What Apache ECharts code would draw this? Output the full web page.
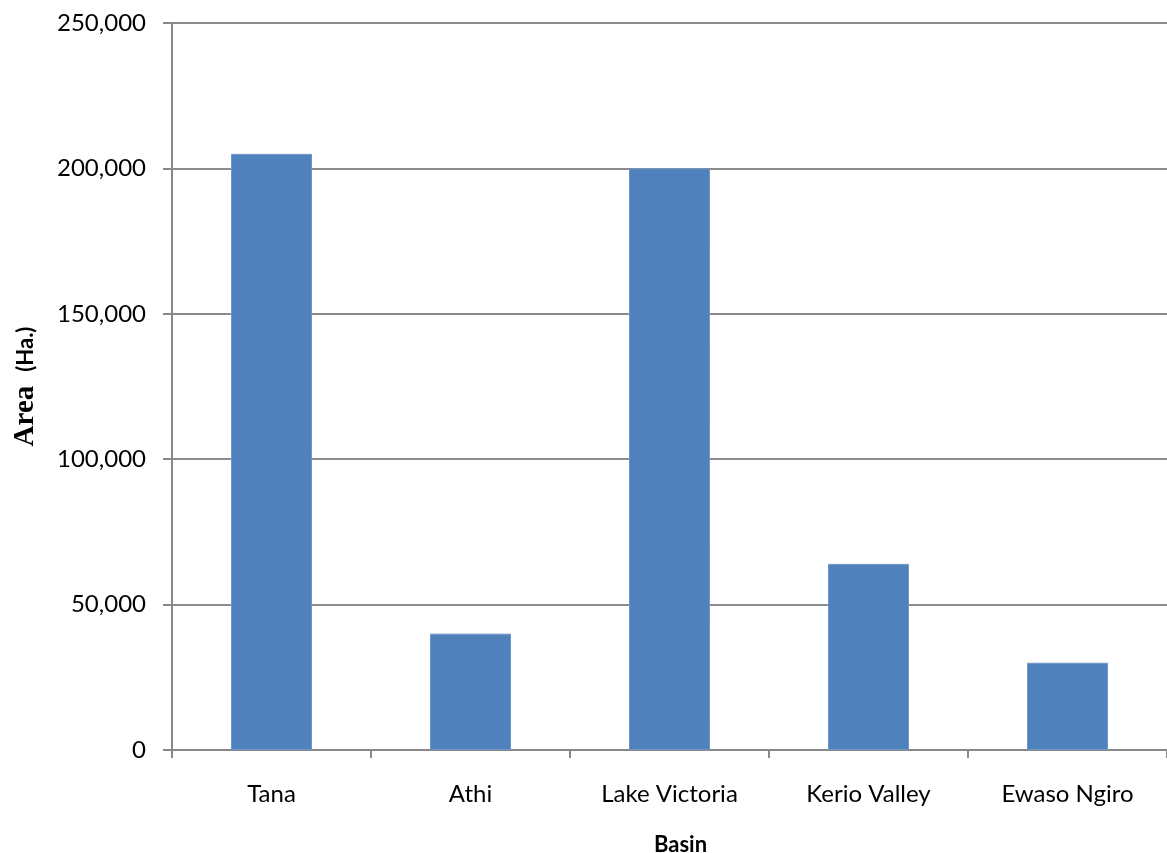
<!DOCTYPE html>
<html>
<head>
    <meta charset="utf-8">
    <title>Basin area</title>
    <script type="text/javascript" src="https://cdn.jsdelivr.net/npm/echarts@6/dist/echarts.min.js"></script>
    <style>
        html, body { margin: 0; padding: 0; background: #fff; }
    </style>
</head>
<body>
    <div id="main" style="width:1167px;height:853px;"></div>

    <script type="text/javascript">
        var basins = ['Tana', 'Athi', 'Lake Victoria', 'Kerio Valley', 'Ewaso Ngiro'];
        var areas = [205000, 40000, 200000, 64000, 30000];

        var myChart = echarts.init(document.getElementById('main'));

        var option = {
            animation: false,
            grid: { left: 172, right: 0, top: 23, bottom: 103, outerBoundsMode: 'none' },
            xAxis: {
                type: 'category',
                data: basins,
                name: 'Basin',
                nameLocation: 'middle',
                nameGap: 84,
                nameTextStyle: { fontFamily: 'Lato', fontWeight: 'bold', fontSize: 22, color: '#000', padding: [0, 0, 0, 22] },
                axisLine: { lineStyle: { color: '#888', width: 2 } },
                axisTick: { show: true, length: 8, lineStyle: { color: '#888', width: 2 } },
                axisLabel: { fontFamily: 'Lato', fontSize: 24, color: '#000', margin: 32 }
            },
            yAxis: {
                type: 'value',
                min: 0,
                max: 250000,
                interval: 50000,
                name: '{a|Area}{b|(Ha.)}',
                nameLocation: 'middle',
                nameGap: 132,
                nameRotate: 90,
                nameTextStyle: {
                    fontFamily: 'Liberation Serif',
                    fontWeight: 'bold',
                    fontSize: 28,
                    color: '#000',
                    rich: {
                        a: { fontFamily: 'Liberation Serif', fontWeight: 'bold', fontSize: 29, color: '#000' },
                        b: { fontFamily: 'Lato', fontWeight: 'bold', fontSize: 22, color: '#000', padding: [0, 0, 0, 14] }
                    }
                },
                axisLine: { show: true, lineStyle: { color: '#888', width: 2 } },
                axisTick: { show: true, length: 9, lineStyle: { color: '#888', width: 2 } },
                splitLine: { lineStyle: { color: '#8c8c8c', width: 2 } },
                axisLabel: {
                    fontFamily: 'Lato', fontSize: 24, color: '#000', margin: 26,
                    formatter: function (v) { return v.toLocaleString('en-US'); }
                }
            },
            series: [
                {
                    type: 'bar',
                    data: areas,
                    barWidth: '40.7%',
                    itemStyle: { color: '#4F81BD', borderColor: '#6f96c8', borderWidth: 1 }
                }
            ]
        };

        myChart.setOption(option);
    </script>
</body>
</html>
